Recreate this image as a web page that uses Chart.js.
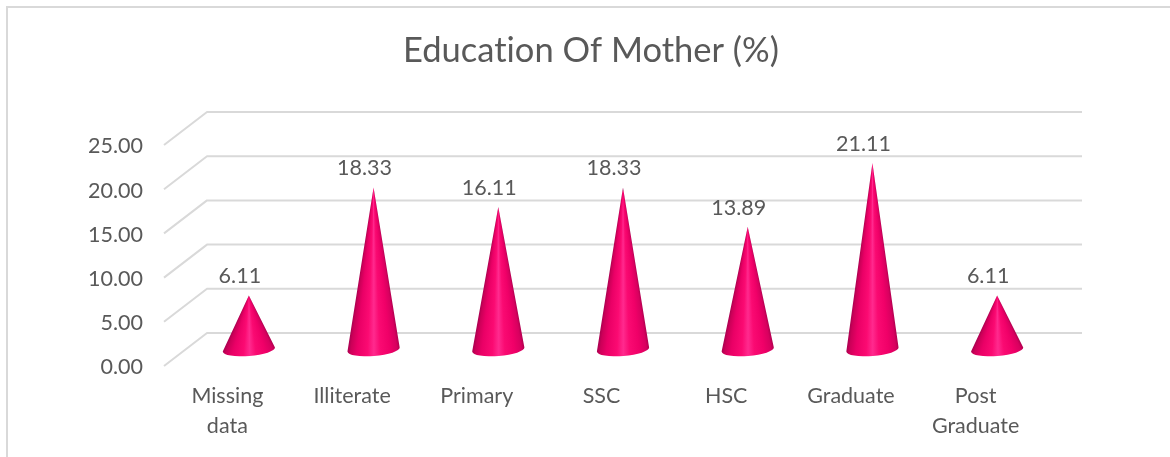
<!DOCTYPE html>
<html>
<head>
<meta charset="utf-8">
<style>html,body{margin:0;padding:0;background:#fff}#w{width:1170px;height:457px;position:relative}</style>
<script src="https://cdn.jsdelivr.net/npm/chart.js@4"></script>
</head>
<body>
<div id="w"><canvas id="c" width="1170" height="457"></canvas></div>
<script>
const categories = [['Missing','data'],'Illiterate','Primary','SSC','HSC','Graduate',['Post','Graduate']];
const values = [6.11,18.33,16.11,18.33,13.89,21.11,6.11];
const titleText = 'Education Of Mother (%)';
const FONT = 'Lato, "Open Sans", sans-serif';
const TEXT = '#595959', GRID = '#d9d9d9';
const DEPTH_X = 43, DEPTH_Y = 33, NUDGE = 1.5;

const frame = {
  id:'frame',
  beforeInit(ch){ ch.ctx.textRendering = 'optimizeSpeed'; },
  beforeDraw(ch){
    const c = ch.ctx; c.save();
    c.textRendering = 'optimizeSpeed';
    c.strokeStyle = GRID; c.lineWidth = 2;
    c.beginPath(); c.moveTo(7,457); c.lineTo(7,7); c.lineTo(1170,7); c.stroke();
    c.restore();
    c.textRendering = 'optimizeSpeed';
  }
};
const wall = {
  id:'wall',
  beforeDatasetsDraw(ch){
    const c = ch.ctx, y = ch.scales.y, a = ch.chartArea;
    c.save(); c.strokeStyle = GRID; c.lineWidth = 2; c.lineJoin = 'round';
    y.ticks.forEach(t => {
      const p = y.getPixelForValue(t.value) - NUDGE;
      c.beginPath();
      c.moveTo(a.left-1, p);
      c.lineTo(a.left-1+DEPTH_X, p-DEPTH_Y);
      c.lineTo(a.right+DEPTH_X+1, p-DEPTH_Y);
      c.stroke();
    });
    c.restore();
  }
};
const cones = {
  id:'cones',
  afterDatasetsDraw(ch){
    const c = ch.ctx, meta = ch.getDatasetMeta(0);
    const rot = -4.5*Math.PI/180;
    meta.data.forEach((el,i) => {
      const cx = el.x + DEPTH_X/2, cy = el.base - DEPTH_Y/2 - NUDGE, tipY = el.y - DEPTH_Y/2 - NUDGE;
      const rx = el.width/2, ry = 6.5;
      const ex = rx*Math.cos(rot), ey = rx*Math.sin(rot);
      const aR = Math.atan2(cy+ey-tipY, ex), aL = Math.atan2(cy-ey-tipY, -ex);
      const g = c.createConicGradient(aR-0.001, cx, tipY);
      const span = (aL-aR+0.002)/(2*Math.PI);
      [[0,'#b0004e'],[0.06,'#d8005f'],[0.2,'#f00068'],[0.38,'#fa0a72'],[0.5,'#ff2a8e'],[0.62,'#fb0a72'],[0.82,'#ea0066'],[0.94,'#cc0058'],[1,'#a80050']]
        .forEach(s => g.addColorStop(s[0]*span, s[1]));
      g.addColorStop(Math.min(span+0.001,1),'#a80050');
      c.save();
      c.beginPath();
      c.moveTo(cx,tipY);
      c.lineTo(cx+ex,cy+ey);
      c.ellipse(cx,cy,rx,ry,rot,0,Math.PI,false);
      c.closePath();
      c.fillStyle = g; c.fill();
      c.restore();
      c.save();
      c.fillStyle = TEXT; c.font = '21.5px '+FONT; c.textAlign = 'center'; c.textBaseline = 'middle';
      c.fillText(values[i].toFixed(2), el.x+12.5, tipY-19);
      c.restore();
    });
  }
};

new Chart(document.getElementById('c'), {
  type:'bar',
  data:{labels:categories,datasets:[{data:values,backgroundColor:'rgba(0,0,0,0)',borderWidth:0,barPercentage:0.42,categoryPercentage:1,yAxisID:'y'}]},
  plugins:[frame,wall,cones],
  options:{
    responsive:false,animation:false,
    layout:{padding:{left:12,right:0,top:0,bottom:0}},
    plugins:{
      legend:{display:false},tooltip:{enabled:false},
      title:{display:true,text:titleText,color:TEXT,font:{family:FONT,size:34.5,weight:'normal',lineHeight:1.2},padding:{top:30,bottom:75.1}}
    },
    scales:{
      x:{
        grid:{display:false,drawTicks:false},border:{display:false},
        ticks:{color:TEXT,font:{family:FONT,size:21.5,lineHeight:1.38},padding:14,maxRotation:0,autoSkip:false},
        afterFit(s){s.height=89.5;}
      },
      y:{
        position:'left',min:0,max:25,
        grid:{display:false,drawTicks:false},border:{display:false},
        ticks:{stepSize:5,color:TEXT,font:{family:FONT,size:21.5},padding:22,callback:v=>v.toFixed(2)},
        afterFit(s){s.width=153;}
      },
      r:{
        position:'right',display:true,min:0,max:25,
        grid:{display:false,drawTicks:false},border:{display:false},
        ticks:{display:false},
        afterFit(s){s.width=132;}
      }
    }
  }
});
</script>
</body>
</html>
